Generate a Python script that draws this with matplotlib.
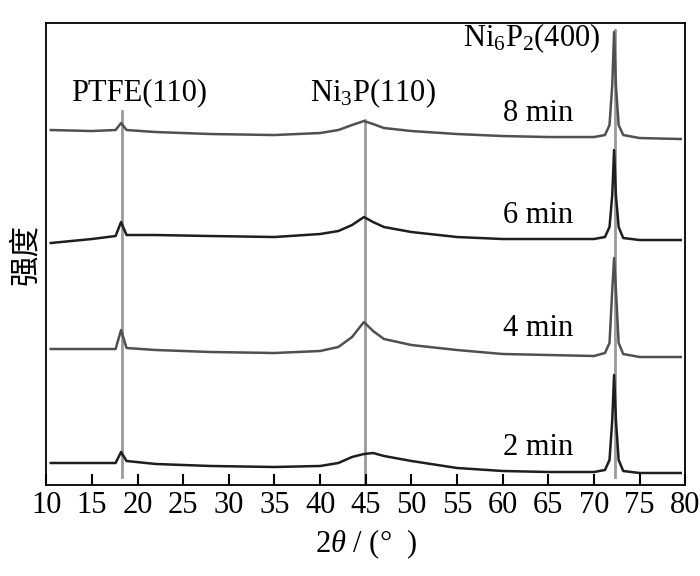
import matplotlib
matplotlib.use('Agg')
import matplotlib.pyplot as plt

plt.rcParams['font.family'] = ['Liberation Serif', 'Noto Sans CJK SC', 'DejaVu Sans']
plt.rcParams['mathtext.fontset'] = 'custom'
plt.rcParams['mathtext.rm'] = 'Liberation Serif'
plt.rcParams['mathtext.it'] = 'Liberation Serif:italic'

# 2theta positions (deg) and intensities (a.u., curves already offset)
two_theta = [10.5, 15, 17.6, 18.2, 18.8, 22, 28, 35, 40, 42, 43.5, 44.8, 45.8, 47,
             50, 55, 60, 65, 70, 71.2, 71.7, 72.0, 72.2, 72.4, 72.7, 73.2, 75, 79.5]

int_8min = [355, 354, 355, 362, 355, 353, 351, 350, 352, 355, 360, 364, 361, 357,
            354, 351, 349, 348, 348, 350, 360, 400, 453, 400, 360, 350, 347, 346]
int_6min = [242, 246, 249, 263, 250, 250, 249, 248, 251, 254, 260, 268, 263, 258,
            253, 248, 246, 246, 246, 248, 258, 290, 335, 290, 258, 247, 245, 245]
int_4min = [136, 136, 136, 155, 137, 135, 133, 132, 134, 138, 148, 163, 154, 146,
            140, 135, 131, 130, 129, 132, 142, 195, 227, 195, 142, 131, 128, 128]
int_2min = [22, 22, 22, 33, 24, 21, 19, 18, 19, 22, 28, 31, 32, 29,
            24, 17, 14, 13, 13, 15, 25, 65, 110, 65, 25, 14, 12, 12]

series = [('8 min', int_8min, '#505050'),
          ('6 min', int_6min, '#1e1e1e'),
          ('4 min', int_4min, '#505050'),
          ('2 min', int_2min, '#1e1e1e')]

# reference peak lines: position, bottom, top
peak_pos = [18.3, 44.9, 72.3]
peak_bot = [8, 0, 8]
peak_top = [374, 365, 455]

fig = plt.figure(figsize=(7, 5.76), dpi=100)
ax = fig.add_axes([0.066, 0.158, 0.913, 0.802])

for x0, y0, y1 in zip(peak_pos, peak_bot, peak_top):
    ax.plot([x0, x0], [y0, y1], color='#9a9a9a', lw=2, zorder=1)

for name, vals, col in series:
    ax.plot(two_theta, vals, color=col, lw=1.8, zorder=2)

# labels
fs = 22
ax.text(20.2, 392, 'PTFE(110)', fontsize=fs, ha='center', va='center')
ax.text(45.8, 392, r'Ni$_3$P(110)', fontsize=fs, ha='center', va='center')
ax.text(63.2, 447, r'Ni$_6$P$_2$(400)', fontsize=fs, ha='center', va='center')
label_y = [372, 270, 157, 37]
for (name, vals, col), ly in zip(series, label_y):
    ax.text(63.9, ly, name, fontsize=fs, ha='center', va='center')

ax.set_xlim(10, 80)
ax.set_ylim(0, 462)
ax.set_xticks(range(10, 81, 5))
ax.set_yticks([])
ax.tick_params(axis='x', direction='in', length=8, width=1.5, pad=4, labelsize=fs)
for sp in ax.spines.values():
    sp.set_linewidth(1.3)

ax.set_xlabel(r'2$\theta$ / (°  )', fontsize=fs, labelpad=6)
ax.set_ylabel('强度', fontsize=fs, family=['Noto Sans CJK SC'], labelpad=4)

fig.savefig('out.png', dpi=100)
